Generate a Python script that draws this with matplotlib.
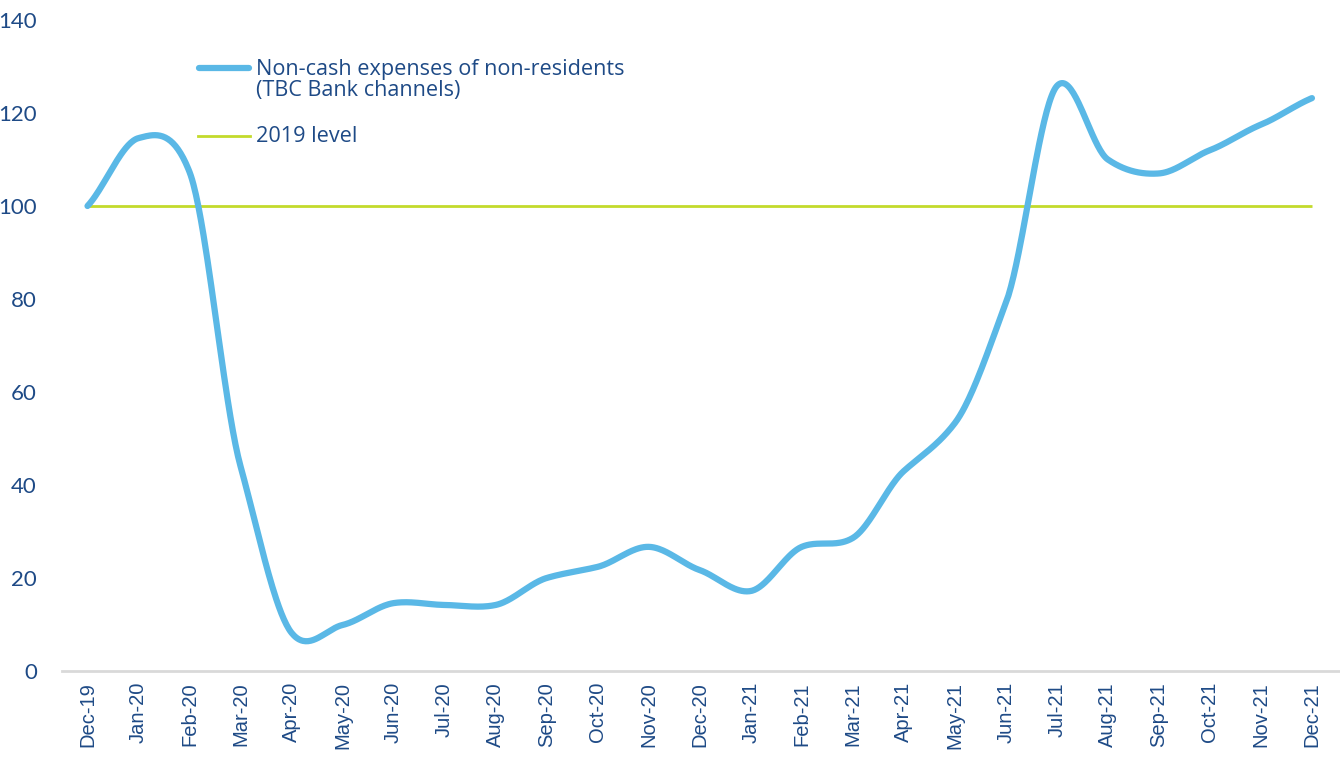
import numpy as np
import matplotlib
matplotlib.use("Agg")
import matplotlib.pyplot as plt
from matplotlib.lines import Line2D

months = ["Dec-19", "Jan-20", "Feb-20", "Mar-20", "Apr-20", "May-20", "Jun-20",
          "Jul-20", "Aug-20", "Sep-20", "Oct-20", "Nov-20", "Dec-20", "Jan-21",
          "Feb-21", "Mar-21", "Apr-21", "May-21", "Jun-21", "Jul-21", "Aug-21",
          "Sep-21", "Oct-21", "Nov-21", "Dec-21"]
non_cash = [100, 114.6, 107.3, 44.0, 8.2, 9.9, 14.6, 14.2, 14.2, 20.0, 22.4, 26.7,
            21.7, 17.2, 26.7, 28.6, 43.0, 53.3, 79.1, 125.8, 110.0, 107.0, 112.0, 117.5, 123.2]
level_2019 = [100] * len(months)
yticks = [0, 20, 40, 60, 80, 100, 120, 140]
legend_labels = ["Non-cash expenses of non-residents\n(TBC Bank channels)", "2019 level"]

BLUE = "#5AB8E6"
GREEN = "#C3DA2C"
NAVY = "#1E4A86"


def smooth(xs, ys, n=40, k=0.4):
    xs = np.asarray(xs, float)
    ys = np.asarray(ys, float)
    py = np.concatenate([[2 * ys[0] - ys[1]], ys, [2 * ys[-1] - ys[-2]]])
    ox, oy = [], []
    t = np.linspace(0, 1, n, endpoint=False)
    h00 = 2 * t ** 3 - 3 * t ** 2 + 1
    h10 = t ** 3 - 2 * t ** 2 + t
    h01 = -2 * t ** 3 + 3 * t ** 2
    h11 = t ** 3 - t ** 2
    for i in range(1, len(py) - 2):
        m1 = k * (py[i + 1] - py[i - 1])
        m2 = k * (py[i + 2] - py[i])
        oy.extend(h00 * py[i] + h10 * m1 + h01 * py[i + 1] + h11 * m2)
        ox.extend(xs[i - 1] + t * (xs[i] - xs[i - 1]))
    ox.append(xs[-1])
    oy.append(ys[-1])
    return np.array(ox), np.array(oy)


fig = plt.figure(figsize=(13.4, 7.6), dpi=100)
W, H = 1340, 760
ax = fig.add_axes([62 / W, (H - 671) / H, 1 - 62 / W, (671 - 20) / H])

x = np.arange(len(months))
ax.plot(x, level_2019, color=GREEN, lw=2, solid_capstyle="butt", zorder=2)
sx, sy = smooth(x, non_cash)
ax.plot(sx, sy, color=BLUE, lw=4.5, solid_capstyle="round", zorder=3)

ax.set_xlim(-0.5, 24.55)
ax.set_ylim(0, 140)
ax.set_yticks(yticks)
ax.set_yticklabels([str(v) for v in yticks], fontsize=16, color=NAVY, family="Lato")
ax.set_xticks(x)
ax.set_xticklabels(months, rotation=90, fontsize=14.5, color=NAVY, family="Liberation Sans")
ax.tick_params(axis="both", length=0)
ax.tick_params(axis="y", pad=18)
ax.tick_params(axis="x", pad=8)
for s in ["top", "right", "left"]:
    ax.spines[s].set_visible(False)
ax.spines["bottom"].set_color("#D9D9D9")
ax.spines["bottom"].set_linewidth(2)

# legend (manual)
fig.add_artist(Line2D([199 / W, 249 / W], [(H - 68) / H] * 2, color=BLUE, lw=4.5,
                      solid_capstyle="round", transform=fig.transFigure))
fig.add_artist(Line2D([198 / W, 250 / W], [(H - 136) / H] * 2, color=GREEN, lw=2,
                      transform=fig.transFigure))
fig.text(256 / W, (H - 80) / H, legend_labels[0], fontsize=15.6, color=NAVY, family="Open Sans",
         va="center", ha="left", linespacing=1.05)
fig.text(256 / W, (H - 136) / H, legend_labels[1], fontsize=15.6, color=NAVY, family="Open Sans",
         va="center", ha="left")

fig.savefig("out.png", dpi=100)
